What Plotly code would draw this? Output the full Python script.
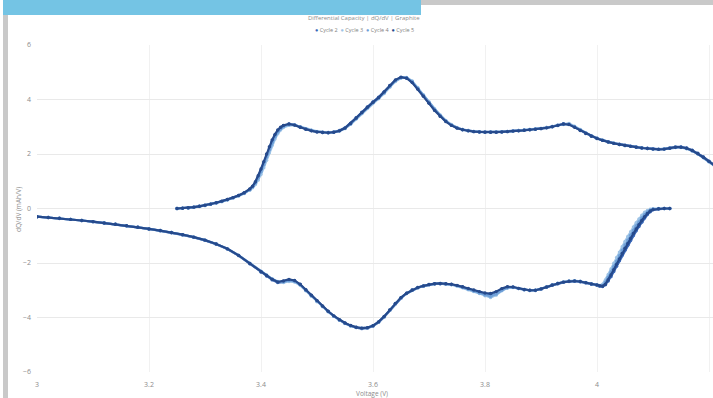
import plotly.graph_objects as go

# ---------------- data ----------------
cycles = ["Cycle 2", "Cycle 3", "Cycle 4", "Cycle 5"]
colors = ["#3A68B8", "#9DC3E6", "#6FA0D8", "#264A8C"]

x_ticks = [3.0, 3.2, 3.4, 3.6, 3.8, 4.0, 4.2]
x_tick_labels = ["3", "3.2", "3.4", "3.6", "3.8", "4", "4.2"]
y_ticks = [-6, -4, -2, 0, 2, 4, 6]

# charge branch voltages (V)
charge_v = [3.25, 3.26, 3.27, 3.28, 3.29, 3.30, 3.31, 3.32, 3.33, 3.34, 3.35, 3.36, 3.37, 3.38,
            3.385, 3.39, 3.395, 3.40, 3.405, 3.41, 3.415, 3.42, 3.425, 3.43, 3.435, 3.44,
            3.45, 3.46, 3.47, 3.48, 3.49, 3.50, 3.51, 3.52, 3.53, 3.54, 3.55, 3.56, 3.57, 3.58, 3.59,
            3.60, 3.61, 3.62, 3.63, 3.64, 3.65, 3.66, 3.67, 3.68, 3.69, 3.70, 3.71, 3.72, 3.73, 3.74,
            3.75, 3.76, 3.77, 3.78, 3.79,
            3.80, 3.81, 3.82, 3.83, 3.84, 3.85, 3.86, 3.87, 3.88, 3.89, 3.90, 3.91, 3.92, 3.93, 3.94,
            3.95, 3.96, 3.97, 3.98, 3.99,
            4.00, 4.01, 4.02, 4.03, 4.04, 4.05, 4.06, 4.07, 4.08, 4.09, 4.10, 4.11, 4.12, 4.13, 4.14,
            4.15, 4.16, 4.17, 4.18, 4.19, 4.20, 4.21]

cycle2_charge = [0.00, 0.01, 0.02, 0.05, 0.08, 0.11, 0.16, 0.21, 0.26, 0.33, 0.40, 0.48, 0.57, 0.70,
                 0.80, 0.95, 1.15, 1.40, 1.66, 1.94, 2.22, 2.47, 2.68, 2.85, 2.96, 3.04,
                 3.10, 3.07, 2.99, 2.92, 2.86, 2.82, 2.80, 2.79, 2.81, 2.86, 2.96, 3.13, 3.33, 3.53, 3.73,
                 3.91, 4.08, 4.28, 4.50, 4.70, 4.80, 4.79, 4.64, 4.40, 4.14, 3.88, 3.62, 3.40, 3.21, 3.07,
                 2.96, 2.90, 2.86, 2.83, 2.82,
                 2.81, 2.81, 2.81, 2.82, 2.83, 2.85, 2.86, 2.88, 2.90, 2.92, 2.94, 2.97, 3.01, 3.06, 3.11,
                 3.10, 3.00, 2.88, 2.76, 2.66,
                 2.58, 2.51, 2.45, 2.40, 2.36, 2.32, 2.29, 2.26, 2.23, 2.21, 2.19, 2.18, 2.19, 2.22, 2.26,
                 2.26, 2.22, 2.14, 2.03, 1.89, 1.74, 1.59]

cycle3_charge = [0.00, 0.01, 0.02, 0.04, 0.07, 0.11, 0.15, 0.20, 0.25, 0.31, 0.38, 0.46, 0.55, 0.67,
                 0.76, 0.88, 1.04, 1.25, 1.50, 1.77, 2.05, 2.32, 2.55, 2.74, 2.88, 2.97,
                 3.05, 3.06, 3.00, 2.93, 2.87, 2.83, 2.80, 2.79, 2.80, 2.84, 2.93, 3.09, 3.28, 3.48, 3.68,
                 3.87, 4.03, 4.22, 4.45, 4.66, 4.79, 4.81, 4.68, 4.44, 4.18, 3.92, 3.66, 3.43, 3.23, 3.08,
                 2.97, 2.90, 2.86, 2.83, 2.81,
                 2.80, 2.80, 2.81, 2.81, 2.83, 2.84, 2.86, 2.88, 2.90, 2.92, 2.94, 2.97, 3.01, 3.06, 3.08,
                 3.12, 3.02, 2.90, 2.78, 2.67,
                 2.58, 2.51, 2.45, 2.40, 2.35, 2.31, 2.28, 2.25, 2.23, 2.20, 2.18, 2.18, 2.19, 2.22, 2.26,
                 2.24, 2.19, 2.11, 2.00, 1.86, 1.71, 1.56]

cycle4_charge = [0.00, 0.01, 0.03, 0.05, 0.08, 0.12, 0.16, 0.21, 0.26, 0.32, 0.39, 0.47, 0.56, 0.69,
                 0.79, 0.93, 1.12, 1.35, 1.61, 1.89, 2.16, 2.42, 2.63, 2.81, 2.93, 3.01,
                 3.08, 3.07, 2.99, 2.92, 2.86, 2.82, 2.79, 2.78, 2.80, 2.85, 2.94, 3.10, 3.30, 3.50, 3.70,
                 3.88, 4.05, 4.25, 4.48, 4.69, 4.81, 4.80, 4.66, 4.41, 4.15, 3.89, 3.63, 3.41, 3.21, 3.06,
                 2.96, 2.89, 2.85, 2.82, 2.81,
                 2.80, 2.80, 2.80, 2.81, 2.82, 2.84, 2.85, 2.87, 2.89, 2.91, 2.93, 2.96, 3.00, 3.04, 3.09,
                 3.09, 3.00, 2.88, 2.76, 2.66,
                 2.57, 2.50, 2.44, 2.39, 2.35, 2.31, 2.28, 2.25, 2.22, 2.20, 2.18, 2.17, 2.18, 2.21, 2.24,
                 2.25, 2.20, 2.12, 2.01, 1.87, 1.72, 1.57]

cycle5_charge = [0.00, 0.01, 0.03, 0.05, 0.08, 0.12, 0.16, 0.21, 0.27, 0.33, 0.40, 0.48, 0.58, 0.72,
                 0.82, 0.98, 1.20, 1.45, 1.72, 2.00, 2.27, 2.52, 2.72, 2.88, 2.98, 3.05,
                 3.10, 3.06, 2.98, 2.91, 2.85, 2.81, 2.79, 2.78, 2.80, 2.85, 2.95, 3.12, 3.32, 3.52, 3.72,
                 3.90, 4.07, 4.28, 4.52, 4.72, 4.82, 4.78, 4.62, 4.38, 4.12, 3.86, 3.60, 3.38, 3.19, 3.05,
                 2.95, 2.89, 2.85, 2.82, 2.81,
                 2.80, 2.80, 2.80, 2.81, 2.82, 2.84, 2.85, 2.87, 2.89, 2.91, 2.93, 2.96, 3.00, 3.05, 3.10,
                 3.08, 2.98, 2.86, 2.75, 2.65,
                 2.57, 2.50, 2.44, 2.39, 2.35, 2.31, 2.28, 2.25, 2.22, 2.20, 2.18, 2.17, 2.18, 2.21, 2.25,
                 2.25, 2.21, 2.13, 2.02, 1.88, 1.73, 1.58]

# discharge branch voltages (V)
discharge_v = [3.00, 3.02, 3.04, 3.06, 3.08, 3.10, 3.12, 3.14, 3.16, 3.18, 3.20, 3.22, 3.24, 3.26,
               3.28, 3.30, 3.32, 3.34, 3.36, 3.38, 3.40,
               3.41, 3.42, 3.43, 3.44, 3.45, 3.46, 3.47, 3.48, 3.49, 3.50, 3.51, 3.52, 3.53, 3.54,
               3.55, 3.56, 3.57, 3.58, 3.59, 3.60,
               3.61, 3.62, 3.63, 3.64, 3.65, 3.66, 3.67, 3.68, 3.69, 3.70, 3.71, 3.72, 3.73, 3.74,
               3.75, 3.76, 3.77, 3.78, 3.79, 3.80,
               3.81, 3.82, 3.83, 3.84, 3.85, 3.86, 3.87, 3.88, 3.89, 3.90, 3.91, 3.92, 3.93, 3.94,
               3.95, 3.96, 3.97, 3.98, 3.99, 4.00,
               4.005, 4.01, 4.015, 4.02, 4.025, 4.03, 4.035, 4.04, 4.045, 4.05, 4.055, 4.06, 4.065,
               4.07, 4.075, 4.08, 4.085, 4.09, 4.095, 4.10,
               4.11, 4.12, 4.13]

cycle2_discharge = [-0.30, -0.33, -0.37, -0.40, -0.44, -0.49, -0.53, -0.58, -0.64, -0.69, -0.75, -0.82, -0.89, -0.97,
                    -1.06, -1.17, -1.31, -1.49, -1.73, -2.03, -2.33,
                    -2.48, -2.62, -2.72, -2.70, -2.64, -2.66, -2.79, -2.99, -3.19, -3.39, -3.59, -3.78, -3.95, -4.09,
                    -4.21, -4.30, -4.37, -4.41, -4.39, -4.31,
                    -4.18, -3.98, -3.74, -3.50, -3.29, -3.12, -3.00, -2.91, -2.85, -2.80, -2.77, -2.76, -2.77, -2.79,
                    -2.83, -2.88, -2.95, -3.01, -3.08, -3.15,
                    -3.20, -3.12, -2.99, -2.90, -2.89, -2.94, -2.98, -3.01, -3.01, -2.96, -2.89, -2.82, -2.76, -2.71,
                    -2.68, -2.67, -2.69, -2.73, -2.78, -2.82,
                    -2.85, -2.86, -2.80, -2.66, -2.50, -2.31, -2.12, -1.92, -1.72, -1.53, -1.35, -1.17, -0.99,
                    -0.82, -0.66, -0.50, -0.35, -0.22, -0.12, -0.05,
                    -0.02, 0.00, 0.00]

cycle3_discharge = [-0.30, -0.33, -0.36, -0.40, -0.44, -0.48, -0.53, -0.58, -0.63, -0.69, -0.75, -0.81, -0.88, -0.96,
                    -1.05, -1.16, -1.30, -1.48, -1.71, -2.01, -2.30,
                    -2.44, -2.58, -2.68, -2.72, -2.68, -2.70, -2.82, -3.02, -3.22, -3.42, -3.61, -3.79, -3.96, -4.10,
                    -4.22, -4.31, -4.37, -4.40, -4.38, -4.31,
                    -4.17, -3.97, -3.73, -3.49, -3.28, -3.12, -3.00, -2.91, -2.85, -2.80, -2.77, -2.76, -2.77, -2.80,
                    -2.85, -2.91, -2.98, -3.05, -3.12, -3.20,
                    -3.27, -3.18, -3.02, -2.92, -2.90, -2.94, -2.98, -3.01, -3.00, -2.95, -2.88, -2.81, -2.74, -2.69,
                    -2.66, -2.65, -2.67, -2.71, -2.76, -2.80,
                    -2.82, -2.78, -2.62, -2.42, -2.22, -2.01, -1.80, -1.60, -1.40, -1.21, -1.03, -0.85, -0.68,
                    -0.52, -0.38, -0.25, -0.14, -0.07, -0.03, -0.01,
                    0.00, 0.00, 0.00]

cycle4_discharge = [-0.30, -0.33, -0.36, -0.40, -0.44, -0.48, -0.53, -0.58, -0.63, -0.69, -0.75, -0.81, -0.88, -0.96,
                    -1.05, -1.16, -1.30, -1.48, -1.72, -2.02, -2.31,
                    -2.45, -2.59, -2.69, -2.69, -2.64, -2.67, -2.80, -3.00, -3.20, -3.40, -3.59, -3.78, -3.95, -4.09,
                    -4.21, -4.30, -4.36, -4.39, -4.37, -4.30,
                    -4.16, -3.96, -3.72, -3.48, -3.27, -3.11, -2.99, -2.90, -2.84, -2.79, -2.76, -2.75, -2.76, -2.79,
                    -2.83, -2.89, -2.96, -3.03, -3.10, -3.17,
                    -3.22, -3.14, -3.00, -2.91, -2.89, -2.93, -2.97, -3.00, -3.00, -2.95, -2.88, -2.81, -2.75, -2.70,
                    -2.67, -2.66, -2.68, -2.72, -2.77, -2.81,
                    -2.84, -2.83, -2.70, -2.52, -2.33, -2.13, -1.93, -1.73, -1.53, -1.34, -1.16, -0.98, -0.81,
                    -0.64, -0.49, -0.35, -0.23, -0.13, -0.06, -0.02,
                    -0.01, 0.00, 0.00]

cycle5_discharge = [-0.30, -0.33, -0.36, -0.40, -0.44, -0.48, -0.53, -0.58, -0.63, -0.69, -0.75, -0.81, -0.88, -0.96,
                    -1.05, -1.16, -1.30, -1.48, -1.72, -2.02, -2.32,
                    -2.46, -2.60, -2.70, -2.66, -2.60, -2.64, -2.78, -2.98, -3.18, -3.38, -3.58, -3.77, -3.94, -4.08,
                    -4.20, -4.29, -4.36, -4.39, -4.37, -4.30,
                    -4.16, -3.96, -3.72, -3.48, -3.27, -3.11, -2.99, -2.90, -2.84, -2.79, -2.76, -2.75, -2.76, -2.78,
                    -2.82, -2.87, -2.93, -2.99, -3.05, -3.10,
                    -3.12, -3.05, -2.94, -2.87, -2.88, -2.93, -2.97, -3.00, -3.00, -2.95, -2.88, -2.81, -2.75, -2.70,
                    -2.67, -2.66, -2.68, -2.72, -2.77, -2.81,
                    -2.84, -2.85, -2.78, -2.62, -2.44, -2.25, -2.05, -1.85, -1.65, -1.46, -1.28, -1.10, -0.92,
                    -0.75, -0.59, -0.44, -0.30, -0.18, -0.09, -0.04,
                    -0.01, 0.00, 0.00]

charge_vals = [cycle2_charge, cycle3_charge, cycle4_charge, cycle5_charge]
discharge_vals = [cycle2_discharge, cycle3_discharge, cycle4_discharge, cycle5_discharge]

# ---------------- figure ----------------
W, H = 713, 398
ML, MR, MT, MB = 37, 0, 45, 26
PW, PH = W - ML - MR, H - MT - MB


def px(xp):
    return (xp - ML) / PW


def py(yp):
    return (H - MB - yp) / PH


FONT = "Open Sans, sans-serif"
TXT = "#8C8C8C"

fig = go.Figure()
for name, col, cv, dv in zip(cycles, colors, charge_vals, discharge_vals):
    fig.add_trace(go.Scatter(
        x=charge_v + [None] + discharge_v,
        y=cv + [None] + dv,
        mode="lines+markers",
        name=name,
        showlegend=False,
        line=dict(color=col, width=2.2),
        marker=dict(color=col, size=3.4),
        connectgaps=False,
    ))

fig.update_xaxes(
    range=[3.0, 3.0 + PW / 560.0],
    tickvals=x_ticks, ticktext=x_tick_labels,
    showgrid=True, gridcolor="#F1F1F1", gridwidth=1,
    zeroline=False, showline=False, ticks="",
    tickfont=dict(family=FONT, size=7, color=TXT),
    ticklabelstandoff=7,
)
fig.update_yaxes(
    range=[-6, 6], tickvals=y_ticks,
    showgrid=True, gridcolor="#E9E9E9", gridwidth=1,
    zeroline=False, showline=False, ticks="",
    tickfont=dict(family=FONT, size=7, color=TXT),
    ticklabelstandoff=5,
)

shapes = [
    # left grey strip
    dict(type="rect", xref="paper", yref="paper", x0=px(3), x1=px(8), y0=py(398), y1=py(0),
         fillcolor="#C9C9C9", line=dict(width=0), layer="above"),
    # top grey bar
    dict(type="rect", xref="paper", yref="paper", x0=px(421), x1=px(713), y0=py(5), y1=py(0),
         fillcolor="#C9C9C9", line=dict(width=0), layer="above"),
    # blue banner
    dict(type="rect", xref="paper", yref="paper", x0=px(3), x1=px(421), y0=py(15), y1=py(0),
         fillcolor="#74C4E4", line=dict(width=0), layer="above"),
]

legend_text = "&nbsp;&nbsp;".join(
    f"<span style='color:{c}'>●</span> {n}" for n, c in zip(cycles, colors)
)

annotations = [
    dict(text="Differential Capacity | dQ/dV | Graphite", x=px(364), y=py(18), xref="paper", yref="paper",
         showarrow=False, font=dict(family=FONT, size=6, color=TXT),
         xanchor="center", yanchor="middle"),
    dict(text=legend_text, x=px(364), y=py(30), xref="paper", yref="paper",
         showarrow=False, font=dict(family=FONT, size=5.5, color="#7F7F7F"),
         xanchor="center", yanchor="middle"),
    dict(text="Voltage (V)", x=px(372), y=py(393), xref="paper", yref="paper",
         showarrow=False, font=dict(family=FONT, size=6.5, color=TXT),
         xanchor="center", yanchor="middle"),
    dict(text="dQ/dV (mAh/V)", x=px(18), y=py(210), xref="paper", yref="paper", textangle=-90,
         showarrow=False, font=dict(family=FONT, size=6.5, color=TXT),
         xanchor="center", yanchor="middle"),
]

fig.update_layout(
    width=W, height=H,
    margin=dict(l=ML, r=MR, t=MT, b=MB, pad=0),
    paper_bgcolor="white", plot_bgcolor="white",
    showlegend=False,
    shapes=shapes,
    annotations=annotations,
)

fig.write_html("out.html", config={"displayModeBar": False},
               post_script="document.body.style.margin='0';")
